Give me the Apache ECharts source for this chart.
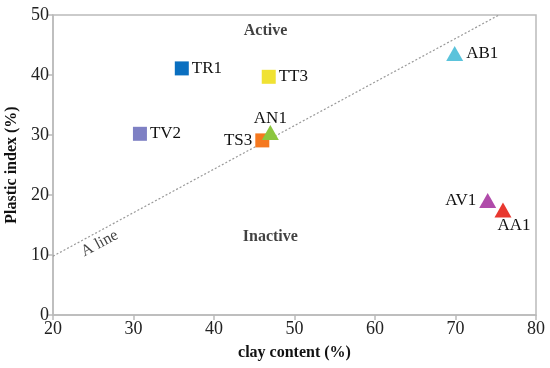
<!DOCTYPE html>
<html><head><meta charset="utf-8">
<script src="https://cdn.jsdelivr.net/npm/echarts@6/dist/echarts.min.js"></script>
<style>html,body{margin:0;padding:0;background:#fff}#c{width:550px;height:368px}</style>
</head><body><div id="c"></div>
<script>
const names = ['TR1','TV2','TT3','TS3','AN1','AB1','AV1','AA1'];
const clay = [36.0, 30.8, 46.8, 46.0, 47.0, 69.9, 74.0, 75.9];
const plastic = [41.1, 30.2, 39.7, 29.1, 30.4, 43.6, 19.1, 17.5];
const symbols = ['rect','rect','rect','rect','triangle','triangle','triangle','triangle'];
const colors = ['#0A6FC0','#7E80C4','#F0E233','#F5781F','#8CC63E','#5BC3DB','#B04BAA','#E8382F'];
const labelPos = ['right','right','right','left','top','right','left','bottom'];
const aLineX = [20, 75.4];
const aLineY = [9.8, 50];
const zoneNames = ['Active','Inactive'];
const zoneX = [46.4, 47.0];
const zoneY = [47.4, 13.0];
const xTicks = [20,30,40,50,60,70,80];
const yTicks = [0,10,20,30,40,50];

const font = '"Liberation Serif", "Times New Roman", serif';
const labelShift = {AN1:[0,5], AA1:[11,-3]};
const chart = echarts.init(document.getElementById('c'));
const pts = names.map((n,i)=>({
  name:n, value:[clay[i], plastic[i]], symbol:symbols[i],
  symbolSize: symbols[i]==='rect' ? 14 : [17,15],
  itemStyle:{color:colors[i], opacity:1},
  label:{show:true, position:labelPos[i], formatter:n, distance:3,
    offset: labelShift[n] || [0,0],
    fontFamily:font, fontSize:17, color:'#111'}
}));
chart.setOption({
  animation:false,
  grid:{left:53, right:14, top:15, bottom:53, show:true, borderColor:'#bbb', borderWidth:1.5,
    containLabel:false, outerBoundsMode:'none'},
  xAxis:{type:'value', min:xTicks[0], max:xTicks[xTicks.length-1], interval:10,
    name:'clay content (%)', nameLocation:'middle', nameGap:30,
    nameTextStyle:{fontFamily:font, fontSize:16, fontWeight:'bold', color:'#111'},
    axisLine:{lineStyle:{color:'#bbb', width:1.5}},
    axisTick:{show:true, length:5, lineStyle:{color:'#bbb', width:1.5}},
    axisLabel:{fontFamily:font, fontSize:18, color:'#222', margin:5},
    splitLine:{show:false}},
  yAxis:{type:'value', min:yTicks[0], max:yTicks[yTicks.length-1], interval:10,
    name:'Plastic index (%)', nameLocation:'middle', nameGap:29,
    nameTextStyle:{fontFamily:font, fontSize:16, fontWeight:'bold', color:'#111'},
    axisLine:{show:true, lineStyle:{color:'#bbb', width:1.5}},
    axisTick:{show:true, length:5, lineStyle:{color:'#bbb', width:1.5}},
    axisLabel:{fontFamily:font, fontSize:18, color:'#222', margin:4},
    splitLine:{show:false}},
  series:[
    {type:'line', data:aLineX.map((x,i)=>[x,aLineY[i]]), symbol:'none',
     lineStyle:{color:'#999', width:1.2, type:[2,2]}, z:1, silent:true},
    {type:'scatter', data:pts, z:3},
    {type:'scatter', data:zoneNames.map((n,i)=>({value:[zoneX[i],zoneY[i]], name:n})),
     symbolSize:0, label:{show:true, position:'inside', formatter:p=>p.name,
       fontFamily:font, fontSize:16, fontWeight:'bold', color:'#111'}},
    {type:'scatter', data:[{value:[25.8,11.9], name:'A line'}], symbolSize:0,
     label:{show:true, position:'inside', formatter:'A line', rotate:28,
       fontFamily:font, fontSize:16, color:'#111'}}
  ]
});
</script></body></html>
